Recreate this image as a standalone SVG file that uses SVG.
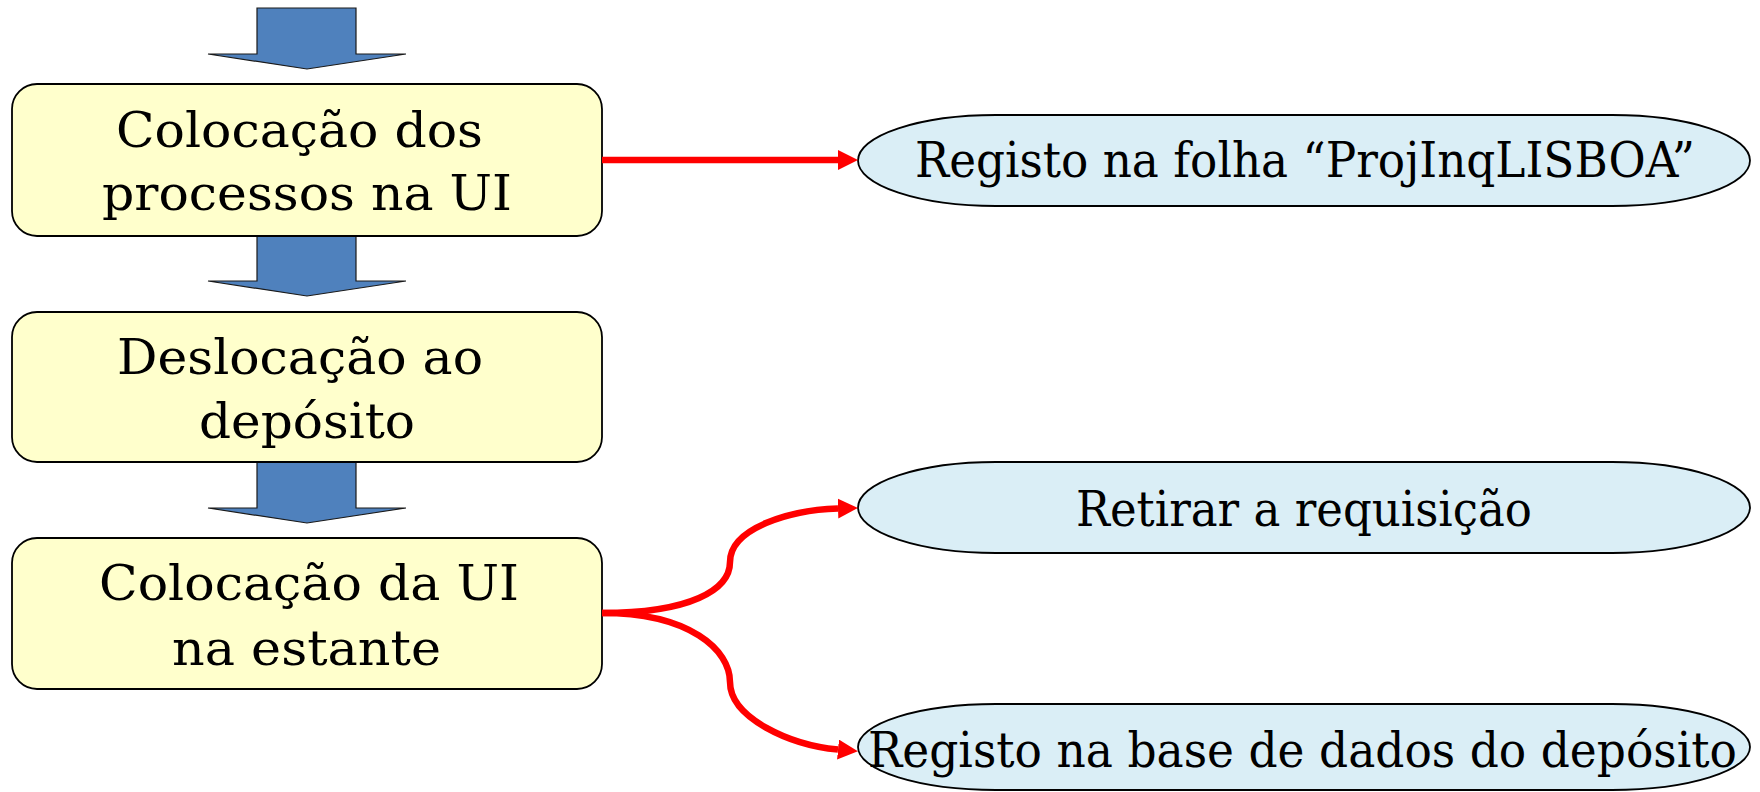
<svg xmlns="http://www.w3.org/2000/svg" width="1760" height="792" viewBox="0 0 1760 792">
<style>
.box{fill:#FFFFCC;stroke:#000;stroke-width:1.8}
.oval{fill:#DAEEF6;stroke:#000;stroke-width:1.8}
.blk{fill:#4F81BD;stroke:#1a1a1a;stroke-width:1.2}
.t{font-family:"DejaVu Serif","Liberation Serif",serif;font-size:48px;fill:#000}
.con{fill:none;stroke:#FF0000;stroke-width:6.5}
</style>
<defs>
<marker id="ah" markerUnits="userSpaceOnUse" markerWidth="22" markerHeight="22" refX="0" refY="10" orient="auto">
<path d="M0,0 L20,10 L0,20 z" fill="#FF0000"/>
</marker>
</defs>
<g id="flow-arrows">
<polygon class="blk" points="257,8 356,8 356,54 406,54 307,69 208,54 257,54"/>
<polygon class="blk" points="257,236 356,236 356,281 406,281 307,296 208,281 257,281"/>
<polygon class="blk" points="257,462 356,462 356,508 406,508 307,523 208,508 257,508"/>
</g>
<g id="n1">
<rect class="box" x="12" y="84" width="590" height="152" rx="25" ry="25"/>
<text class="t" x="116" y="147" textLength="367" lengthAdjust="spacingAndGlyphs">Colocação dos</text>
<text class="t" x="102" y="210" textLength="410" lengthAdjust="spacingAndGlyphs">processos na UI</text>
</g>
<g id="n2">
<rect class="box" x="12" y="312" width="590" height="150" rx="25" ry="25"/>
<text class="t" x="117" y="374" textLength="366" lengthAdjust="spacingAndGlyphs">Deslocação ao</text>
<text class="t" x="199" y="438" textLength="216" lengthAdjust="spacingAndGlyphs">depósito</text>
</g>
<g id="n3">
<rect class="box" x="12" y="538" width="590" height="151" rx="25" ry="25"/>
<text class="t" x="99" y="600" textLength="420" lengthAdjust="spacingAndGlyphs">Colocação da UI</text>
<text class="t" x="172" y="665" textLength="269" lengthAdjust="spacingAndGlyphs">na estante</text>
</g>
<g id="o1">
<rect class="oval" x="858" y="115" width="892" height="91" rx="138" ry="45.5"/>
<text class="t" x="915" y="177" textLength="780" lengthAdjust="spacingAndGlyphs">Registo na folha “ProjInqLISBOA”</text>
</g>
<g id="o2">
<rect class="oval" x="858" y="462" width="892" height="91" rx="138" ry="45.5"/>
<text class="t" x="1076" y="526" textLength="456" lengthAdjust="spacingAndGlyphs">Retirar a requisição</text>
</g>
<g id="o3">
<rect class="oval" x="858" y="704" width="892" height="86" rx="138" ry="43"/>
<text class="t" x="868" y="767" textLength="869" lengthAdjust="spacingAndGlyphs">Registo na base de dados do depósito</text>
</g>
<g id="connectors">
<path class="con" d="M602,160 L838,160" marker-end="url(#ah)"/>
<path class="con" d="M602,613 C690,613 730,590 730,562 C730,528 790,510 838,508.5" marker-end="url(#ah)"/>
<path class="con" d="M602,613 C690,613 730,650 730,682 C730,718 790,745 838,749.5" marker-end="url(#ah)"/>
</g>
</svg>
